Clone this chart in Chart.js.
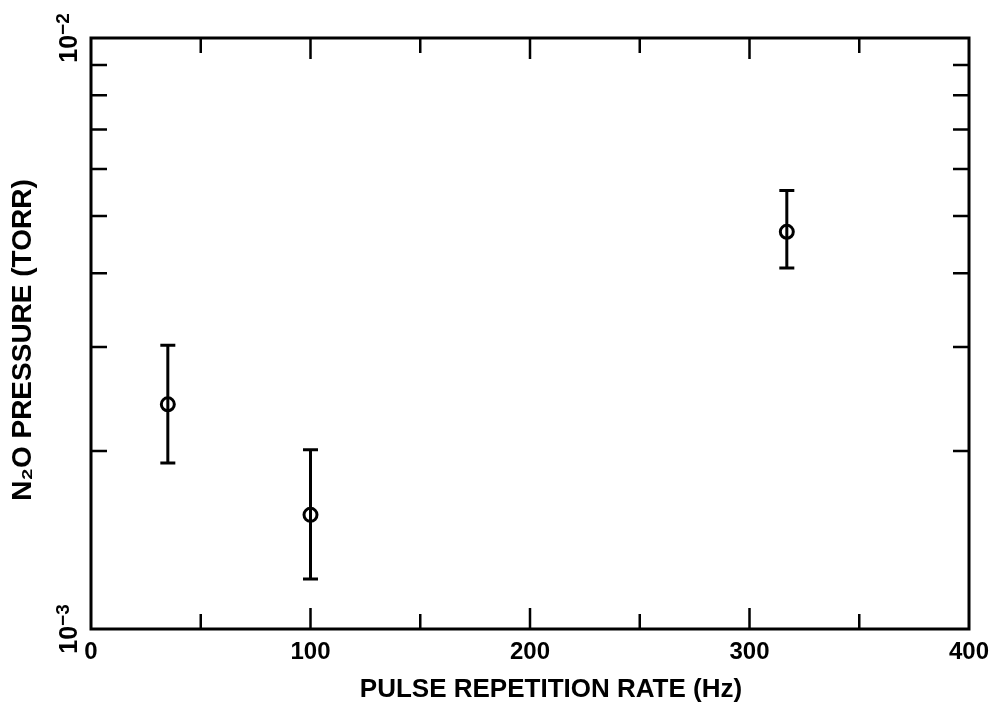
<!DOCTYPE html>
<html lang="en">
<head>
<meta charset="UTF-8">
<title>N2O pressure vs pulse repetition rate</title>
<script src="https://cdn.jsdelivr.net/npm/chart.js"></script>
<style>
  html, body { margin: 0; padding: 0; background: #fff; }
  canvas { display: block; }
</style>
</head>
<body>
<canvas id="chart" width="994" height="717"></canvas>
<script>
// values
const rate = [35, 100, 317];                     // Hz
const pressure = [2.40e-3, 1.56e-3, 4.70e-3];    // torr
const errLow = [1.91e-3, 1.215e-3, 4.08e-3];
const errHigh = [3.02e-3, 2.01e-3, 5.52e-3];

const xTicks = [50, 100, 150, 200, 250, 300, 350];
const yMinorTicks = [2e-3, 3e-3, 4e-3, 5e-3, 6e-3, 7e-3, 8e-3, 9e-3];
const yLabelValues = [1e-3, 1e-2];
const yLabelExp = ['\u22123', '\u22122'];
const xTitle = 'PULSE REPETITION RATE (Hz)';
const yTitle = 'N\u2082O PRESSURE (TORR)';

const FONT = '"Liberation Sans", Arial, Helvetica, sans-serif';

const errorBars = {
  id: 'errorBars',
  beforeDatasetsDraw(chart) {
    const { ctx, scales: { x, y } } = chart;
    ctx.save();
    ctx.strokeStyle = '#000';
    ctx.lineWidth = 3;
    rate.forEach((r, i) => {
      const px = x.getPixelForValue(r);
      const lo = y.getPixelForValue(errLow[i]);
      const hi = y.getPixelForValue(errHigh[i]);
      ctx.beginPath();
      ctx.moveTo(px, lo); ctx.lineTo(px, hi);
      ctx.moveTo(px - 7.5, lo); ctx.lineTo(px + 7.5, lo);
      ctx.moveTo(px - 7.5, hi); ctx.lineTo(px + 7.5, hi);
      ctx.stroke();
    });
    ctx.restore();
  }
};

const frame = {
  id: 'frame',
  afterDraw(chart) {
    const { ctx, chartArea: a, scales: { x, y } } = chart;
    ctx.save();
    ctx.strokeStyle = '#000';
    ctx.lineWidth = 3;
    ctx.strokeRect(a.left, a.top, a.right - a.left, a.bottom - a.top);

    ctx.lineWidth = 2.5;
    ctx.beginPath();
    xTicks.forEach(v => {
      const px = x.getPixelForValue(v);
      const len = v % 100 === 0 ? 21 : 15;
      ctx.moveTo(px, a.bottom); ctx.lineTo(px, a.bottom - len);
      ctx.moveTo(px, a.top); ctx.lineTo(px, a.top + len);
    });
    yMinorTicks.forEach(v => {
      const py = y.getPixelForValue(v);
      ctx.moveTo(a.left, py); ctx.lineTo(a.left + 16, py);
      ctx.moveTo(a.right, py); ctx.lineTo(a.right - 16, py);
    });
    ctx.stroke();

    ctx.fillStyle = '#000';
    // rotated decade labels 10^-3, 10^-2
    ctx.textBaseline = 'alphabetic';
    ctx.textAlign = 'left';
    yLabelValues.forEach((v, i) => {
      const py = y.getPixelForValue(v);
      ctx.save();
      ctx.translate(77, py);
      ctx.rotate(-Math.PI / 2);
      ctx.font = 'bold 25px ' + FONT;
      const w1 = ctx.measureText('10').width;
      ctx.font = 'bold 19px ' + FONT;
      const w2 = ctx.measureText(yLabelExp[i]).width;
      const start = -(w1 + w2) / 2;
      ctx.font = 'bold 25px ' + FONT;
      ctx.fillText('10', start, 0);
      ctx.font = 'bold 19px ' + FONT;
      ctx.fillText(yLabelExp[i], start + w1, -8);
      ctx.restore();
    });

    // axis titles
    ctx.textAlign = 'center';
    ctx.textBaseline = 'middle';
    ctx.font = 'bold 26px ' + FONT;
    ctx.fillText(xTitle, 551, 690);
    ctx.save();
    ctx.translate(23, 340);
    ctx.rotate(-Math.PI / 2);
    ctx.font = 'bold 28px ' + FONT;
    ctx.fillText(yTitle, 0, 0);
    ctx.restore();
    ctx.restore();
  }
};

new Chart(document.getElementById('chart'), {
  type: 'scatter',
  data: {
    datasets: [{
      data: rate.map((r, i) => ({ x: r, y: pressure[i] })),
      pointStyle: 'circle',
      pointRadius: 6.5,
      pointBorderWidth: 3,
      pointBorderColor: '#000',
      pointBackgroundColor: 'rgba(0,0,0,0)',
      showLine: false
    }]
  },
  options: {
    responsive: false,
    animation: false,
    layout: { padding: { top: 38, right: 25, left: 0, bottom: 0 } },
    plugins: { legend: { display: false }, tooltip: { enabled: false } },
    scales: {
      x: {
        type: 'linear',
        min: 0,
        max: 400,
        grid: { display: false, drawTicks: false },
        border: { display: false },
        ticks: {
          stepSize: 100,
          padding: 9,
          color: '#000',
          font: { family: FONT, size: 24, weight: 'bold' }
        },
        afterFit(scale) {
          scale.height = 88;
          scale.paddingLeft = 0;
          scale.paddingRight = 0;
        }
      },
      y: {
        type: 'logarithmic',
        min: 1e-3,
        max: 1e-2,
        grid: { display: false, drawTicks: false },
        border: { display: false },
        ticks: { display: false },
        afterFit(scale) { scale.width = 91; }
      }
    }
  },
  plugins: [errorBars, frame]
});
</script>
</body>
</html>
